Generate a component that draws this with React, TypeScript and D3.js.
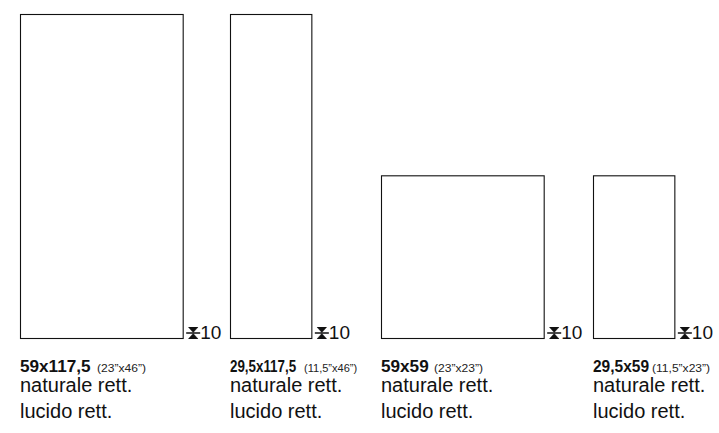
import React from "react";
import * as d3 from "d3";

const sizes = ["59x117,5", "29,5x117,5", "59x59", "29,5x59"];
const inches = ["(23”x46”)", "(11,5”x46”)", "(23”x23”)", "(11,5”x23”)"];
const widthsCm = [59, 29.5, 59, 29.5];
const heightsCm = [117.5, 117.5, 59, 59];
const thickness = ["10", "10", "10", "10"];
const finishes = ["naturale rett.", "lucido rett."];

const W = 719;
const H = 433;
const colX = [20, 230, 381, 593];
const sizeScale = [1.04, 0.81, 1.04, 0.94];
const inchOff = [77, 74, 53, 59];
const inchScale = [1.05, 0.96, 1.05, 1.05];
const baseY = 338;
const FONT = "'Liberation Sans', Arial, Helvetica, sans-serif";

export default function App() {
  const y = d3.scaleLinear().domain([0, 117.5]).range([baseY, 14]);
  const k = baseY - y(1); // px per cm
  const wScale = d3.scaleLinear().domain([0, 1]).range([0, k]);
  return (
    <svg
      width={W}
      height={H}
      style={{ position: "absolute", left: 0, top: 0, background: "#fff" }}
    >
      {sizes.map((s, i) => {
        const x0 = colX[i];
        const w = wScale(widthsCm[i]);
        const top = y(heightsCm[i]);
        const ix = x0 + w + 3.5;
        const cx = ix + 7;
        return (
          <g key={s}>
            <rect
              x={x0 + 0.5}
              y={top + 0.5}
              width={w}
              height={baseY - top}
              fill="none"
              stroke="#111"
              strokeWidth={1.1}
            />
            <g fill="#111" stroke="#111">
              <line x1={cx - 4.5} x2={cx + 4.5} y1={327.5} y2={327.5} strokeWidth={1} />
              <path d={`M${cx - 4.5},327.5 L${cx + 4.5},327.5 L${cx},332.5 Z`} strokeWidth={0.4} />
              <line x1={ix} x2={ix + 14} y1={333} y2={333} strokeWidth={1.5} />
              <path d={`M${cx - 4.5},338.5 L${cx + 4.5},338.5 L${cx},333.5 Z`} strokeWidth={0.4} />
              <line x1={cx - 4.5} x2={cx + 4.5} y1={338.5} y2={338.5} strokeWidth={1} />
            </g>
            <text x={ix + 14} y={338.5} fontFamily={FONT} fontSize={19} fill="#111">
              {thickness[i]}
            </text>
            <text
              transform={`translate(${x0},371.5) scale(${sizeScale[i]},1)`}
              fontFamily={FONT}
              fontWeight="bold"
              fontSize={16.5}
              fill="#111"
            >
              {s}
            </text>
            <text
              transform={`translate(${x0 + inchOff[i]},371.5) scale(${inchScale[i]},1)`}
              fontFamily={FONT}
              fontSize={11.5}
              fill="#222"
            >
              {inches[i]}
            </text>
            {finishes.map((f, j) => (
              <text key={f} x={x0} y={392 + j * 26} fontFamily={FONT} fontSize={20} fill="#111">
                {f}
              </text>
            ))}
          </g>
        );
      })}
    </svg>
  );
}
